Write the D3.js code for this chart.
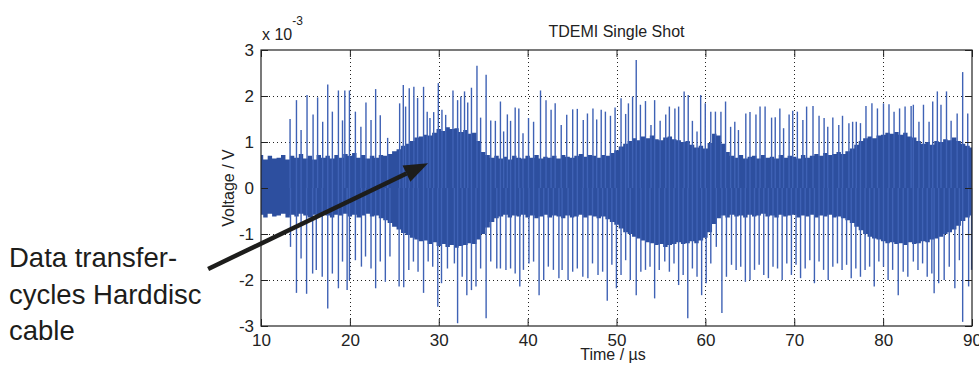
<!DOCTYPE html>
<html>
<head>
<meta charset="utf-8">
<script src="https://cdn.jsdelivr.net/npm/d3@7"></script>
<style>
  body { margin: 0; background: #fff; }
  svg { display: block; }
  text { font-family: Arial, "Liberation Sans", sans-serif; fill: #222; }
</style>
</head>
<body>
<svg id="chart" width="979" height="367"></svg>
<script>
// values are in units of 1e-3 V, time in microseconds
const xTicks = [10, 20, 30, 40, 50, 60, 70, 80, 90];
const yTicks = [-3, -2, -1, 0, 1, 2, 3];

// noise band envelope, read every 0.5 us
const envTime = [10, 10.5, 11, 11.5, 12, 12.5, 13, 13.5, 14, 14.5, 15, 15.5, 16, 16.5, 17, 17.5, 18, 18.5, 19, 19.5,
  20, 20.5, 21, 21.5, 22, 22.5, 23, 23.5, 24, 24.5, 25, 25.5, 26, 26.5, 27, 27.5, 28, 28.5, 29, 29.5,
  30, 30.5, 31, 31.5, 32, 32.5, 33, 33.5, 34, 34.5, 35, 35.5, 36, 36.5, 37, 37.5, 38, 38.5, 39, 39.5,
  40, 40.5, 41, 41.5, 42, 42.5, 43, 43.5, 44, 44.5, 45, 45.5, 46, 46.5, 47, 47.5, 48, 48.5, 49, 49.5,
  50, 50.5, 51, 51.5, 52, 52.5, 53, 53.5, 54, 54.5, 55, 55.5, 56, 56.5, 57, 57.5, 58, 58.5, 59, 59.5,
  60, 60.5, 61, 61.5, 62, 62.5, 63, 63.5, 64, 64.5, 65, 65.5, 66, 66.5, 67, 67.5, 68, 68.5, 69, 69.5,
  70, 70.5, 71, 71.5, 72, 72.5, 73, 73.5, 74, 74.5, 75, 75.5, 76, 76.5, 77, 77.5, 78, 78.5, 79, 79.5,
  80, 80.5, 81, 81.5, 82, 82.5, 83, 83.5, 84, 84.5, 85, 85.5, 86, 86.5, 87, 87.5, 88, 88.5, 89, 89.5,
  90];
const envHigh = [0.72, 0.62, 0.70, 0.64, 0.66, 0.72, 0.62, 0.70, 0.66, 0.74, 0.64, 0.70, 0.62, 0.72, 0.66, 0.70, 0.64, 0.72, 0.66, 0.74,
  0.70, 0.76, 0.66, 0.72, 0.64, 0.70, 0.66, 0.72, 0.70, 0.74, 0.80, 0.84, 0.92, 0.96, 1.02, 1.10, 1.12, 1.16, 1.14, 1.20,
  1.28, 1.24, 1.32, 1.28, 1.30, 1.22, 1.26, 1.18, 1.20, 1.02, 0.78, 0.72, 0.66, 0.70, 0.64, 0.68, 0.62, 0.70, 0.66, 0.64,
  0.70, 0.66, 0.72, 0.64, 0.68, 0.66, 0.70, 0.64, 0.72, 0.68, 0.66, 0.70, 0.74, 0.68, 0.72, 0.70, 0.66, 0.72, 0.70, 0.76,
  0.82, 0.90, 0.96, 1.02, 1.08, 1.04, 1.12, 1.08, 1.14, 1.06, 1.04, 1.10, 1.12, 1.06, 1.04, 1.00, 1.02, 0.94, 0.88, 0.92,
  0.86, 0.98, 1.18, 1.14, 0.96, 0.78, 0.70, 0.66, 0.72, 0.64, 0.68, 0.70, 0.64, 0.72, 0.66, 0.68, 0.64, 0.72, 0.66, 0.70,
  0.68, 0.64, 0.72, 0.66, 0.70, 0.74, 0.70, 0.76, 0.72, 0.74, 0.78, 0.74, 0.80, 0.86, 0.94, 1.02, 1.08, 1.12, 1.08, 1.14,
  1.16, 1.20, 1.18, 1.22, 1.16, 1.20, 1.12, 1.10, 1.02, 0.96, 1.00, 0.94, 1.02, 1.00, 1.06, 1.04, 1.10, 1.02, 0.96, 0.92,
  0.88];
const envLow = [-0.58, -0.64, -0.56, -0.62, -0.60, -0.56, -0.64, -0.58, -0.62, -0.56, -0.60, -0.64, -0.58, -0.62, -0.56, -0.60, -0.64, -0.58, -0.60, -0.56,
  -0.62, -0.58, -0.64, -0.60, -0.56, -0.62, -0.60, -0.66, -0.70, -0.76, -0.84, -0.90, -0.98, -1.02, -1.08, -1.12, -1.16, -1.14, -1.22, -1.18,
  -1.26, -1.22, -1.28, -1.24, -1.30, -1.26, -1.24, -1.20, -1.22, -1.12, -1.00, -0.86, -0.74, -0.66, -0.62, -0.58, -0.64, -0.60, -0.62, -0.58,
  -0.64, -0.60, -0.66, -0.62, -0.58, -0.64, -0.60, -0.62, -0.66, -0.60, -0.64, -0.62, -0.58, -0.64, -0.60, -0.62, -0.66, -0.62, -0.68, -0.74,
  -0.80, -0.88, -0.96, -1.00, -1.06, -1.10, -1.14, -1.18, -1.20, -1.24, -1.22, -1.28, -1.24, -1.22, -1.18, -1.22, -1.20, -1.16, -1.20, -1.14,
  -1.08, -0.96, -0.78, -0.66, -0.60, -0.64, -0.58, -0.62, -0.60, -0.64, -0.58, -0.62, -0.60, -0.56, -0.62, -0.60, -0.64, -0.58, -0.62, -0.60,
  -0.58, -0.64, -0.60, -0.62, -0.58, -0.64, -0.60, -0.62, -0.58, -0.64, -0.62, -0.66, -0.70, -0.76, -0.84, -0.92, -1.00, -1.06, -1.10, -1.12,
  -1.16, -1.20, -1.18, -1.22, -1.20, -1.24, -1.18, -1.22, -1.20, -1.16, -1.18, -1.12, -1.10, -1.06, -1.00, -0.96, -0.90, -0.82, -0.72, -0.64,
  -0.60];

// positive spikes
const upTime = [13.27, 13.99, 14.51, 15.18, 15.86, 16.37, 16.94, 17.51, 18.03, 18.71, 19.17, 19.43, 19.95, 20.62, 21.24, 21.81, 22.38, 22.90, 23.42, 24.25,
  25.60, 26.01, 26.27, 26.68, 27.20, 27.62, 28.29, 28.70, 29.01, 29.43, 29.95, 30.36, 30.78, 31.60, 32.12, 32.48, 32.90, 33.26, 33.68, 34.30,
  34.71, 35.33, 35.85, 36.37, 36.94, 37.30, 37.72, 38.08, 38.60, 39.01, 39.48, 40.10, 40.67, 41.45, 42.07, 42.64, 43.10, 43.78, 44.40, 45.07,
  45.59, 46.26, 46.73, 47.35, 47.77, 48.28, 48.75, 49.32, 49.84, 50.51, 51.03, 51.34, 51.81, 52.22, 52.69, 53.26, 53.88, 54.29, 54.91, 55.54,
  55.95, 56.57, 56.99, 57.61, 58.07, 58.54, 59.06, 59.47, 59.99, 60.61, 61.13, 61.75, 62.27, 62.84, 63.31, 63.72, 64.55, 65.02, 65.69, 66.15,
  66.72, 67.45, 67.86, 68.38, 68.80, 69.42, 69.83, 70.35, 70.97, 71.39, 72.11, 72.79, 73.36, 73.77, 74.34, 75.01, 75.43, 76.15, 76.57, 76.98,
  77.45, 78.07, 78.74, 79.36, 80.04, 80.66, 81.23, 81.85, 82.47, 83.15, 83.40, 84.03, 84.54, 85.17, 85.58, 86.10, 86.51, 87.13, 87.65, 88.33,
  88.95, 89.52];
const upValue = [1.50, 1.91, 1.26, 2.02, 1.60, 1.97, 1.44, 2.25, 1.66, 2.12, 1.47, 2.12, 2.12, 1.66, 1.33, 1.86, 1.48, 2.15, 1.58, 1.09,
  1.84, 2.24, 1.77, 2.17, 2.20, 1.96, 2.20, 1.66, 1.52, 1.65, 2.28, 1.70, 1.59, 2.12, 1.91, 1.99, 2.10, 1.86, 2.18, 2.66,
  1.53, 2.46, 1.47, 1.46, 1.88, 1.23, 1.60, 1.46, 1.75, 1.73, 1.19, 1.52, 1.44, 2.12, 1.91, 1.70, 1.84, 1.37, 1.59, 1.71,
  1.72, 1.48, 1.62, 1.73, 1.49, 1.70, 1.66, 1.57, 1.75, 1.95, 1.61, 1.84, 1.99, 2.78, 1.81, 1.89, 1.37, 1.91, 1.46, 1.60,
  1.77, 1.73, 1.77, 2.10, 2.02, 1.46, 1.23, 2.02, 1.84, 1.66, 1.66, 1.66, 1.88, 1.33, 1.44, 1.26, 1.62, 1.65, 1.60, 1.77,
  1.77, 1.53, 1.54, 1.73, 1.30, 1.60, 1.68, 1.66, 1.48, 1.77, 1.78, 1.57, 1.52, 1.33, 1.53, 1.37, 1.57, 1.41, 1.44, 1.44,
  1.41, 1.78, 1.84, 1.73, 1.84, 1.82, 1.66, 1.73, 1.77, 1.78, 1.81, 1.44, 1.81, 1.44, 1.88, 2.10, 1.81, 2.10, 1.46, 1.62,
  2.52, 1.62];

// negative spikes
const downTime = [13.32, 13.99, 14.51, 15.13, 15.81, 16.22, 16.89, 17.51, 18.03, 18.71, 19.17, 19.69, 19.95, 20.62, 21.30, 21.76, 22.38, 22.90, 23.42, 23.99,
  24.51, 25.54, 26.06, 26.63, 27.15, 27.67, 28.29, 28.81, 29.32, 29.89, 30.31, 30.98, 31.76, 32.12, 32.64, 33.16, 33.68, 34.19, 34.71, 35.33,
  35.85, 36.53, 36.94, 37.56, 38.08, 38.60, 39.12, 39.53, 40.15, 40.67, 41.29, 41.81, 42.33, 42.90, 43.52, 43.88, 44.55, 45.07, 45.59, 46.21,
  46.78, 47.30, 47.92, 48.44, 48.96, 49.48, 49.99, 50.51, 51.03, 51.55, 52.22, 52.74, 53.26, 53.77, 54.29, 54.81, 55.43, 55.95, 56.47, 56.99,
  57.50, 58.02, 58.54, 59.06, 59.58, 60.09, 60.61, 61.23, 61.86, 62.37, 62.94, 63.46, 63.98, 64.50, 65.02, 65.53, 66.05, 66.57, 67.09, 67.61,
  68.12, 68.64, 69.16, 69.68, 70.20, 70.71, 71.23, 71.75, 72.27, 72.79, 73.30, 73.82, 74.34, 74.86, 75.38, 75.89, 76.41, 76.93, 77.45, 77.97,
  78.48, 79.00, 79.52, 80.04, 80.56, 81.07, 81.70, 82.26, 82.78, 83.40, 83.92, 84.44, 84.96, 85.48, 85.74, 86.25, 86.87, 87.44, 88.07, 88.58,
  88.95, 89.62, 89.95];
const downValue = [-1.28, -2.28, -1.53, -2.30, -1.86, -1.78, -1.93, -2.62, -1.86, -2.18, -1.60, -2.22, -2.00, -1.57, -1.71, -1.49, -1.75, -2.18, -1.60, -2.04,
  -1.49, -2.14, -2.16, -1.78, -1.60, -1.82, -2.28, -1.60, -1.71, -2.58, -2.07, -1.75, -1.64, -2.94, -1.93, -2.33, -2.22, -2.14, -1.75, -2.83,
  -1.60, -1.75, -1.75, -1.78, -1.75, -1.86, -2.14, -1.78, -1.64, -1.60, -2.33, -2.00, -1.71, -1.78, -1.96, -1.78, -2.00, -1.82, -1.75, -1.93,
  -1.96, -1.64, -1.89, -1.82, -2.45, -1.67, -2.18, -1.89, -1.57, -2.00, -2.33, -1.82, -1.78, -1.71, -2.40, -1.78, -1.60, -1.82, -1.64, -2.11,
  -1.89, -2.83, -1.75, -1.93, -2.33, -2.07, -1.64, -1.28, -2.72, -1.93, -1.67, -1.78, -1.71, -2.04, -2.00, -1.78, -1.67, -1.89, -1.96, -1.71,
  -1.75, -2.00, -1.64, -1.89, -1.67, -1.96, -1.75, -1.57, -2.07, -1.60, -1.78, -2.00, -1.71, -1.64, -1.78, -1.67, -1.96, -1.75, -1.93, -1.78,
  -1.71, -2.14, -1.60, -1.71, -2.00, -1.78, -2.33, -1.82, -1.93, -1.60, -1.78, -1.64, -1.93, -1.86, -2.29, -2.07, -2.00, -1.71, -2.18, -1.57,
  -2.91, -2.14, -1.78];

const noteLines = ["Data transfer-", "cycles Harddisc", "cable"];
// arrow from outside the axes (left) to the bulge at ~29 us
const arrowFrom = [4.05, -1.76];
const arrowTo = [28.8, 0.54];

const svg = d3.select("#chart");
const width = 979, height = 367;
const margin = { top: 50, right: 7, bottom: 41, left: 261 };

const x = d3.scaleLinear()
  .domain([10, 90])
  .range([margin.left, width - margin.right]);

const y = d3.scaleLinear()
  .domain([-3, 3])
  .range([height - margin.bottom, margin.top]);

const blue = "#2d4f9f";
const spikeBlue = "#3f62b5";

svg.append("rect").attr("width", width).attr("height", height).attr("fill", "#fff");

// grid
const grid = svg.append("g")
  .attr("stroke", "#222")
  .attr("stroke-width", 1)
  .attr("stroke-dasharray", "1,3");

grid.selectAll("line.vx")
  .data(xTicks.slice(1, -1))
  .join("line")
  .attr("class", "vx")
  .attr("x1", d => Math.round(x(d)) + 0.5)
  .attr("x2", d => Math.round(x(d)) + 0.5)
  .attr("y1", y(3))
  .attr("y2", y(-3));

grid.selectAll("line.hy")
  .data(yTicks.filter(d => d !== 0 && Math.abs(d) !== 3))
  .join("line")
  .attr("class", "hy")
  .attr("x1", x(10))
  .attr("x2", x(90))
  .attr("y1", d => Math.round(y(d)) + 0.5)
  .attr("y2", d => Math.round(y(d)) + 0.5);

// signal
const plot = svg.append("g");

const envData = envTime.map((t, i) => ({ t, hi: envHigh[i], lo: envLow[i] }));

plot.append("path")
  .datum(envData)
  .attr("fill", blue)
  .attr("d", d3.area()
    .x(d => x(d.t))
    .y0(d => y(d.lo))
    .y1(d => y(d.hi))
    .curve(d3.curveStep));

plot.selectAll("line.up")
  .data(upTime.map((t, i) => ({ t, v: upValue[i] })))
  .join("line")
  .attr("class", "up")
  .attr("x1", d => x(d.t))
  .attr("x2", d => x(d.t))
  .attr("y1", y(0))
  .attr("y2", d => y(d.v))
  .attr("stroke", spikeBlue)
  .attr("stroke-width", 1.4);

plot.selectAll("line.down")
  .data(downTime.map((t, i) => ({ t, v: downValue[i] })))
  .join("line")
  .attr("class", "down")
  .attr("x1", d => x(d.t))
  .attr("x2", d => x(d.t))
  .attr("y1", y(0))
  .attr("y2", d => y(d.v))
  .attr("stroke", spikeBlue)
  .attr("stroke-width", 1.4);

// axes box with inward ticks (matlab look)
const tick = 7;
const fmt = d => String(d);

svg.append("g")
  .attr("transform", `translate(0,${y(-3)})`)
  .call(d3.axisBottom(x).tickValues(xTicks).tickSize(-tick).tickPadding(8).tickFormat(fmt))
  .call(g => g.select(".domain").remove())
  .call(g => g.selectAll("text").attr("font-size", 17));

svg.append("g")
  .attr("transform", `translate(0,${y(3)})`)
  .call(d3.axisTop(x).tickValues(xTicks).tickSize(-tick).tickFormat(""))
  .call(g => g.select(".domain").remove());

svg.append("g")
  .attr("transform", `translate(${x(10)},0)`)
  .call(d3.axisLeft(y).tickValues(yTicks).tickSize(-tick).tickPadding(7).tickFormat(fmt))
  .call(g => g.select(".domain").remove())
  .call(g => g.selectAll("text").attr("font-size", 17));

svg.append("g")
  .attr("transform", `translate(${x(90)},0)`)
  .call(d3.axisRight(y).tickValues(yTicks).tickSize(-tick).tickFormat(""))
  .call(g => g.select(".domain").remove());

svg.selectAll(".tick line").attr("stroke", "#222");

svg.append("rect")
  .attr("x", x(10))
  .attr("y", y(3))
  .attr("width", x(90) - x(10))
  .attr("height", y(-3) - y(3))
  .attr("fill", "none")
  .attr("stroke", "#222")
  .attr("stroke-width", 1.2);

// titles
svg.append("text")
  .attr("x", (x(10) + x(90)) / 2)
  .attr("y", 37)
  .attr("text-anchor", "middle")
  .attr("font-size", 16)
  .text("TDEMI Single Shot");

svg.append("text")
  .attr("x", 613)
  .attr("y", 360)
  .attr("text-anchor", "middle")
  .attr("font-size", 16)
  .text("Time / µs");

svg.append("text")
  .attr("transform", `translate(234,${(y(-3) + y(3)) / 2}) rotate(-90)`)
  .attr("text-anchor", "middle")
  .attr("font-size", 16)
  .text("Voltage / V");

const expo = svg.append("text")
  .attr("x", x(10) + 1)
  .attr("y", 40)
  .attr("font-size", 16);
expo.append("tspan").text("x 10");
expo.append("tspan").attr("dy", -15).attr("font-size", 12).text("-3");

// annotation
svg.append("g")
  .selectAll("text")
  .data(noteLines)
  .join("text")
  .attr("x", 9)
  .attr("y", (d, i) => 267 + i * 36.5)
  .attr("font-family", "'Open Sans', 'Noto Sans', sans-serif")
  .attr("font-size", 27.5)
  .style("fill", "#1d1d1b")
  .text(d => d);

const p0 = [x(arrowFrom[0]), y(arrowFrom[1])];
const p1 = [x(arrowTo[0]), y(arrowTo[1])];
const ang = Math.atan2(p1[1] - p0[1], p1[0] - p0[0]);
const headLen = 24, headHalf = 9;
const base = [p1[0] - headLen * Math.cos(ang), p1[1] - headLen * Math.sin(ang)];

svg.append("line")
  .attr("x1", p0[0])
  .attr("y1", p0[1])
  .attr("x2", base[0])
  .attr("y2", base[1])
  .attr("stroke", "#1d1d1b")
  .attr("stroke-width", 4.5);

svg.append("path")
  .attr("d", d3.line()([
    p1,
    [base[0] + headHalf * Math.sin(ang), base[1] - headHalf * Math.cos(ang)],
    [base[0] - headHalf * Math.sin(ang), base[1] + headHalf * Math.cos(ang)]
  ]))
  .attr("fill", "#1d1d1b");
</script>
</body>
</html>
